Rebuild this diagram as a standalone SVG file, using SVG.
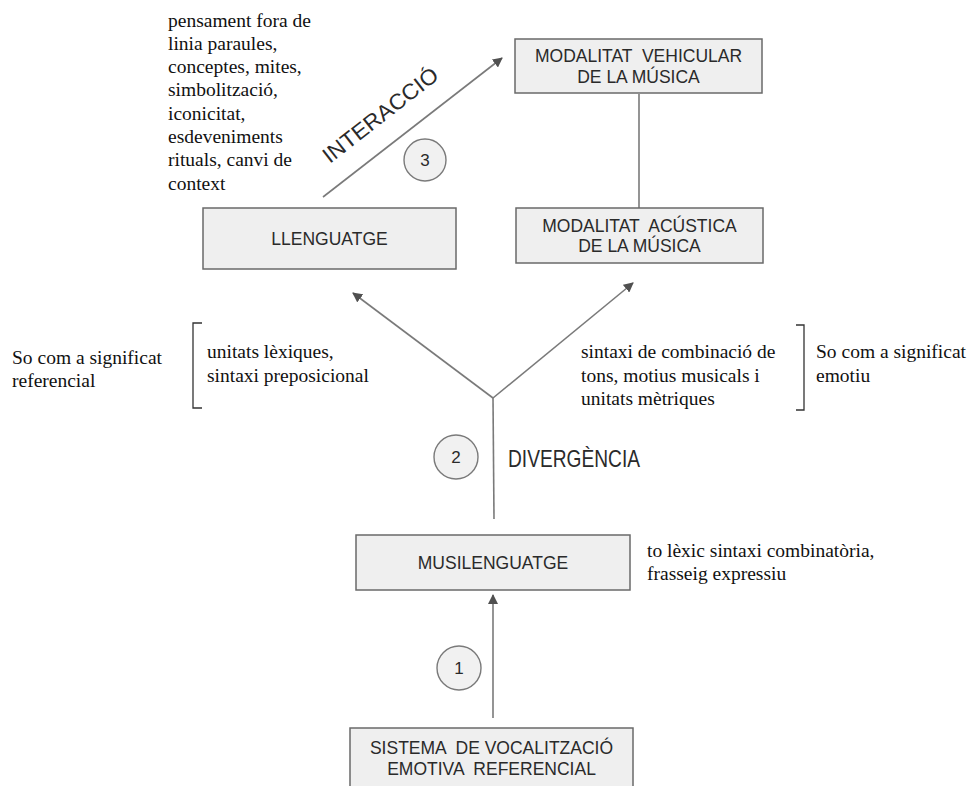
<svg xmlns="http://www.w3.org/2000/svg" width="976" height="786" viewBox="0 0 976 786">
<defs>
<marker id="ah" viewBox="0 0 10 10" refX="9" refY="5" markerWidth="10" markerHeight="10" markerUnits="userSpaceOnUse" orient="auto">
<path d="M0,0 L10,5 L0,10 z" fill="#505050"/>
</marker>
<style>
.box{fill:#efefef;stroke:#6a6a6a;stroke-width:1.5}
.lbl{font-family:"Liberation Sans",Arial,sans-serif;font-size:17.5px;fill:#2a2a2a;text-anchor:middle}
.ser{font-family:"Liberation Serif","Times New Roman",serif;font-size:19.5px;fill:#111}
.con{fill:none;stroke:#7a7a7a;stroke-width:1.6}
.circ{fill:#f1f1f1;stroke:#7a7a7a;stroke-width:1.4}
.num{font-family:"Liberation Sans",Arial,sans-serif;font-size:17px;fill:#2a2a2a;text-anchor:middle}
.brk{fill:none;stroke:#333;stroke-width:1.3}
</style>
</defs>
<rect width="976" height="786" fill="#fff"/>

<g id="connectors">
<line class="con" x1="323" y1="197" x2="502" y2="58" marker-end="url(#ah)"/>
<line class="con" x1="639" y1="94" x2="639" y2="208"/>
<line class="con" x1="494" y1="519" x2="493" y2="398"/>
<line class="con" x1="493" y1="398" x2="353" y2="293" marker-end="url(#ah)"/>
<line class="con" x1="493" y1="398" x2="633" y2="283" marker-end="url(#ah)"/>
<line class="con" x1="493" y1="718" x2="493" y2="595" marker-end="url(#ah)"/>
</g>

<g id="node-llenguatge">
<rect class="box" x="203" y="208" width="253" height="61"/>
<text class="lbl" x="329.5" y="245">LLENGUATGE</text>
</g>

<g id="node-vehicular">
<rect class="box" x="515" y="39" width="247" height="54"/>
<text class="lbl" x="638.5" y="62" xml:space="preserve">MODALITAT  VEHICULAR</text>
<text class="lbl" x="638.5" y="83">DE LA MÚSICA</text>
</g>

<g id="node-acustica">
<rect class="box" x="516" y="208" width="247" height="55"/>
<text class="lbl" x="639.5" y="232" xml:space="preserve">MODALITAT  ACÚSTICA</text>
<text class="lbl" x="639.5" y="252">DE LA MÚSICA</text>
</g>

<g id="node-musilenguatge">
<rect class="box" x="356" y="535" width="274" height="55"/>
<text class="lbl" x="493" y="569">MUSILENGUATGE</text>
</g>

<g id="node-sistema">
<rect class="box" x="350" y="728" width="283" height="70"/>
<text class="lbl" x="491.5" y="754" xml:space="preserve">SISTEMA  DE VOCALITZACIÓ</text>
<text class="lbl" x="491.5" y="775" xml:space="preserve">EMOTIVA  REFERENCIAL</text>
</g>

<g id="step-1">
<circle class="circ" cx="459" cy="668" r="22"/>
<text class="num" x="459" y="674">1</text>
</g>
<g id="step-2">
<circle class="circ" cx="456" cy="457" r="22"/>
<text class="num" x="456" y="463">2</text>
</g>
<g id="step-3">
<circle class="circ" cx="425" cy="160" r="21"/>
<text class="num" x="425" y="166">3</text>
</g>

<g id="label-interaccio">
<text transform="translate(385,121) rotate(-38)" font-family="'Liberation Sans',Arial,sans-serif" font-size="22" fill="#2a2a2a" text-anchor="middle" textLength="140" lengthAdjust="spacingAndGlyphs">INTERACCIÓ</text>
</g>
<g id="label-divergencia">
<text x="508" y="467" font-family="'Liberation Sans',Arial,sans-serif" font-size="24" fill="#2a2a2a" textLength="132" lengthAdjust="spacingAndGlyphs">DIVERGÈNCIA</text>
</g>

<g id="note-top">
<text class="ser" x="168" y="26.5">pensament fora de</text>
<text class="ser" x="168" y="49.8">linia  paraules,</text>
<text class="ser" x="168" y="73.1">conceptes, mites,</text>
<text class="ser" x="168" y="96.4">simbolització,</text>
<text class="ser" x="168" y="119.7">iconicitat,</text>
<text class="ser" x="168" y="143">esdeveniments</text>
<text class="ser" x="168" y="166.3">rituals,  canvi de</text>
<text class="ser" x="168" y="189.6">context</text>
</g>

<g id="note-left">
<text class="ser" x="12" y="364">So com  a significat</text>
<text class="ser" x="12" y="387">referencial</text>
<path class="brk" d="M202,323 H193 V408 H202"/>
<text class="ser" x="207" y="358">unitats lèxiques,</text>
<text class="ser" x="207" y="382">sintaxi preposicional</text>
</g>

<g id="note-right">
<text class="ser" x="581" y="358">sintaxi de combinació de</text>
<text class="ser" x="581" y="382">tons, motius musicals i</text>
<text class="ser" x="581" y="405">unitats mètriques</text>
<path class="brk" d="M796,325 H804 V410 H796"/>
<text class="ser" x="816" y="358">So com a significat</text>
<text class="ser" x="816" y="382">emotiu</text>
</g>

<g id="note-musi">
<text class="ser" x="647" y="557">to lèxic sintaxi combinatòria,</text>
<text class="ser" x="647" y="580">frasseig expressiu</text>
</g>
</svg>
